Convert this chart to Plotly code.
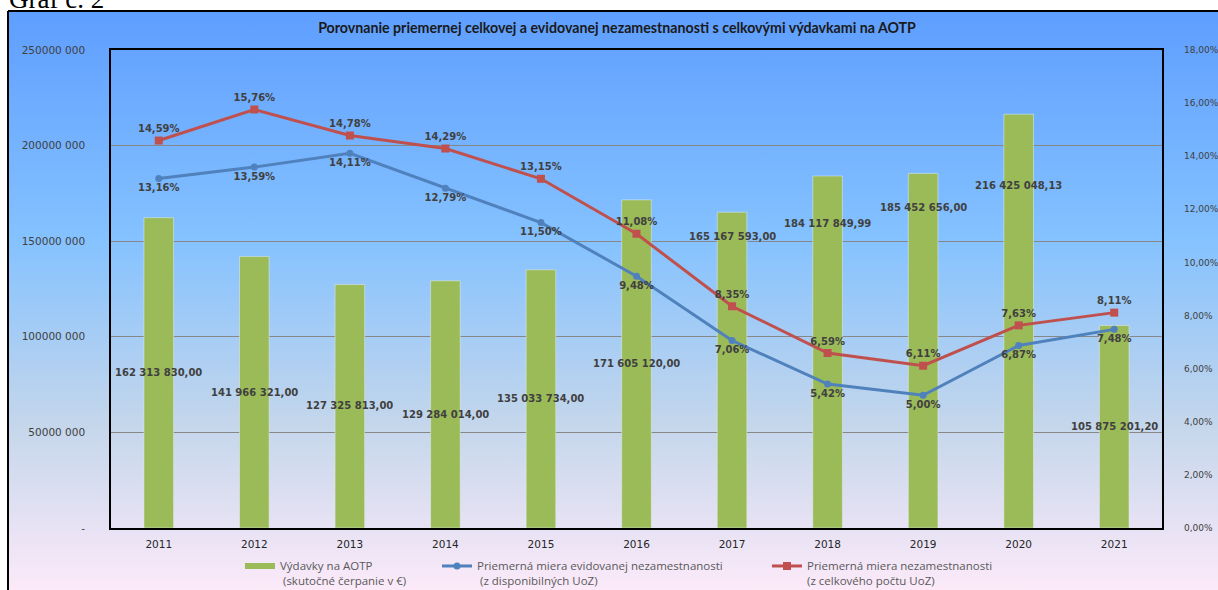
import base64
import plotly.graph_objects as go

# ---------------- data ----------------
years = ["2011", "2012", "2013", "2014", "2015", "2016", "2017", "2018", "2019", "2020", "2021"]
spending = [162313830.00, 141966321.00, 127325813.00, 129284014.00, 135033734.00,
            171605120.00, 165167593.00, 184117849.99, 185452656.00, 216425048.13, 105875201.20]
registered_rate = [13.16, 13.59, 14.11, 12.79, 11.50, 9.48, 7.06, 5.42, 5.00, 6.87, 7.48]
total_rate = [14.59, 15.76, 14.78, 14.29, 13.15, 11.08, 8.35, 6.59, 6.11, 7.63, 8.11]

left_tick_vals = [0, 50000000, 100000000, 150000000, 200000000, 250000000]
left_tick_text = ["-", "50000 000", "100000 000", "150000 000", "200000 000", "250000 000"]
right_tick_vals = [0, 2, 4, 6, 8, 10, 12, 14, 16, 18]
right_tick_text = ["0,00%", "2,00%", "4,00%", "6,00%", "8,00%", "10,00%", "12,00%", "14,00%", "16,00%", "18,00%"]

title_text = "Porovnanie priemernej celkovej a evidovanej nezamestnanosti s celkovými výdavkami na AOTP"
legend_names = [
    "Výdavky na AOTP<br> (skutočné čerpanie v €)",
    "Priemerná miera evidovanej nezamestnanosti<br> (z disponibilných UoZ)",
    "Priemerná miera nezamestnanosti<br>(z celkového počtu UoZ)",
]

# ---------------- style ----------------
W, H = 1218, 590
ML, MR, MT, MB = 111, 56, 50, 62
PW, PH = W - ML - MR, H - MT - MB
GREEN, BLUE, RED = "#9BBB59", "#4F81BD", "#C0504D"
LABEL_COLOR = "#404040"
bar_label_shift = [-155, -136, -121, -134, -129, -164, -24, -48, -34, -71, -101]


def px_x(p):
    return (p - ML) / PW


def px_y(p):
    return 1 - (p - MT) / PH


def fmt_money(v):
    return f"{v:,.2f}".replace(",", " ").replace(".", ",")


def fmt_pct(v):
    return f"{v:.2f}".replace(".", ",") + "%"


svg = ('<svg xmlns="http://www.w3.org/2000/svg" width="100" height="100" viewBox="0 0 100 100" '
       'preserveAspectRatio="none"><defs><linearGradient id="g" x1="0" y1="0" x2="0" y2="1">'
       '<stop offset="0" stop-color="#5E9EFF"/><stop offset="0.39" stop-color="#85C2FF"/>'
       '<stop offset="0.7" stop-color="#C4D6EB"/><stop offset="1" stop-color="#FFEBFA"/>'
       '</linearGradient></defs><rect width="100" height="100" fill="url(#g)"/></svg>')
svg_uri = "data:image/svg+xml;base64," + base64.b64encode(svg.encode()).decode()

fig = go.Figure()

fig.add_trace(go.Bar(
    x=years, y=spending, name=legend_names[0], marker_color=GREEN, width=0.31,
    showlegend=False, yaxis="y",
))
# legend entry for bars (wide flat swatch)
fig.add_trace(go.Scatter(
    x=[None], y=[None], mode="lines", line=dict(color=GREEN, width=6),
    name=legend_names[0], legend="legend", yaxis="y",
))
fig.add_trace(go.Scatter(
    x=years, y=registered_rate, name=legend_names[1], yaxis="y2", legend="legend2",
    mode="lines+markers+text", line=dict(color=BLUE, width=3),
    marker=dict(symbol="circle", size=7, color=BLUE),
    text=[fmt_pct(v) for v in registered_rate], textposition="bottom center",
    textfont=dict(family="DejaVu Sans", size=10, color=LABEL_COLOR, weight="bold"),
))
fig.add_trace(go.Scatter(
    x=years, y=total_rate, name=legend_names[2], yaxis="y2", legend="legend3",
    mode="lines+markers+text", line=dict(color=RED, width=3),
    marker=dict(symbol="square", size=8, color=RED),
    text=[fmt_pct(v) for v in total_rate], textposition="top center",
    textfont=dict(family="DejaVu Sans", size=10, color=LABEL_COLOR, weight="bold"),
))

annotations = []
for i, (v, s) in enumerate(zip(spending, bar_label_shift)):
    annotations.append(dict(
        x=i, y=v, xref="x", yref="y", text=fmt_money(v), showarrow=False,
        yanchor="middle", yshift=s,
        font=dict(family="DejaVu Sans", size=10, color=LABEL_COLOR, weight="bold"),
    ))
annotations.append(dict(
    x=px_x(7), y=px_y(16), xref="paper", yref="paper", xanchor="left", yanchor="bottom",
    text="Graf č. 2", showarrow=False,
    font=dict(family="Liberation Serif", size=27, color="#000000"),
))

legend_common = dict(
    orientation="h", bgcolor="rgba(0,0,0,0)", valign="top",
    font=dict(family="Open Sans", size=11.5, color="#595959"),
    xref="container", yref="container",
    xanchor="left", yanchor="top", y=1 - 552 / H, itemwidth=30,
)

fig.update_layout(
    width=W, height=H,
    margin=dict(l=ML, r=MR, t=MT, b=MB, pad=0, autoexpand=False),
    paper_bgcolor="white", plot_bgcolor="rgba(0,0,0,0)",
    font=dict(family="DejaVu Sans", color=LABEL_COLOR),
    title=dict(text="<b>" + title_text + "</b>", x=617 / W, xref="container", xanchor="center",
               y=1 - 28 / H, yref="container", yanchor="middle",
               font=dict(family="Lato", size=14.2, color="#1a1a1a")),
    xaxis=dict(type="category", range=[-0.5, 10.5], showgrid=False, showline=True,
               linecolor="black", linewidth=1.5, mirror=True, ticks="", automargin=False,
               tickfont=dict(family="DejaVu Sans", size=10.5, color="#262626"),
               ticklabelstandoff=6),
    yaxis=dict(range=[0, 250000000], tickvals=left_tick_vals, ticktext=left_tick_text,
               showgrid=True, gridcolor="#878787", gridwidth=1, zeroline=False,
               showline=True, linecolor="black", linewidth=1.5, mirror=True, ticks="",
               automargin=False,
               tickfont=dict(family="DejaVu Sans", size=10.5, color=LABEL_COLOR),
               ticklabelstandoff=22),
    yaxis2=dict(range=[0, 18], tickvals=right_tick_vals, ticktext=right_tick_text,
                overlaying="y", side="right", showgrid=False, zeroline=False,
                showline=False, ticks="", automargin=False,
                tickfont=dict(family="DejaVu Sans", size=9, color=LABEL_COLOR),
                ticklabelstandoff=21),
    legend=dict(legend_common, x=240 / W),
    legend2=dict(legend_common, x=437 / W),
    legend3=dict(legend_common, x=767 / W),
    annotations=annotations,
    images=[dict(source=svg_uri, xref="paper", yref="paper",
                 x=px_x(8), y=px_y(11), sizex=px_x(W + 5) - px_x(8), sizey=px_y(11) - px_y(600),
                 xanchor="left", yanchor="top", sizing="stretch", layer="below")],
    shapes=[
        dict(type="line", xref="paper", yref="paper", x0=px_x(8), x1=px_x(8),
             y0=px_y(11), y1=px_y(600), line=dict(color="black", width=2), layer="above"),
        dict(type="line", xref="paper", yref="paper", x0=px_x(8), x1=px_x(W + 5),
             y0=px_y(11), y1=px_y(11), line=dict(color="black", width=2), layer="above"),
    ],
)

fig.write_html("out.html", config={"displayModeBar": False},
               post_script="document.body.style.margin='0';document.body.style.overflow='hidden';")
